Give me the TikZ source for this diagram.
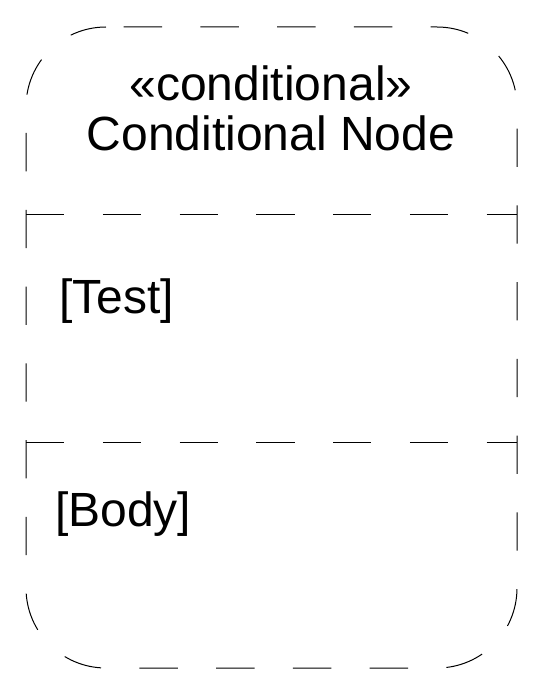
\documentclass[tikz,border=0pt]{standalone}
\usepackage{fontspec}
\setmainfont{Liberation Sans}
\usetikzlibrary{positioning}

\tikzset{
    umldash/.style={line width=1pt, dash pattern=on 38.38pt off 38.38pt},
    umltext/.style={inner sep=0pt, anchor=base, font=\fontsize{48}{50}\selectfont}
}

\begin{document}
\begin{tikzpicture}[x=1pt, y=-1pt]
    \useasboundingbox (0,0) rectangle (544,692);

    % conditional node frame
    \draw[umldash, dash phase=1.86pt] (106,27) arc[start angle=90, end angle=180, radius=80pt]
        -- (26,588) arc[start angle=180, end angle=270, radius=80pt]
        -- (437,668) arc[start angle=270, end angle=360, radius=80pt]
        -- (517,107) arc[start angle=0, end angle=90, radius=80pt]
        -- (106,27);

    % clauses
    \draw[umldash] (26,215) -- (517,215);
    \draw[umldash] (26,442) -- (517,442);

    \node[umltext] (stereo) at (271,101) {«conditional»};
    \node[umltext] (name) at (271,151) {Conditional Node};

    \node[umltext, anchor=base west] (test) at (59,313) {[Test]};
    \node[umltext, anchor=base west] (body) at (55,526) {[Body]};
\end{tikzpicture}
\end{document}
